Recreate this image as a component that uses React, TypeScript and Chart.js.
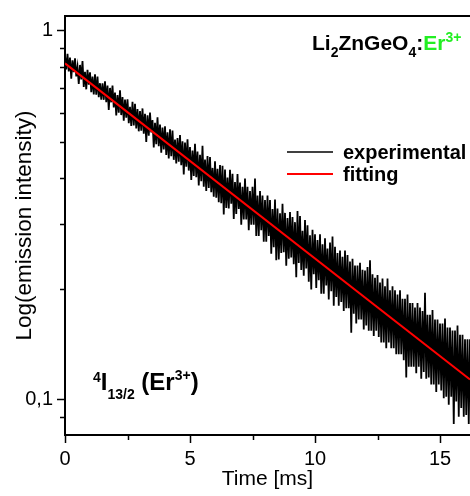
import React, { useEffect, useRef } from 'react';
import { Chart, registerables } from 'chart.js';

Chart.register(...registerables);

// Sampling of the experimental decay trace (ms)
const sampleStartMs = 0;
const sampleStepMs = 0.05;

// Experimental emission intensity (one value per sample, 0 ... 16.2 ms)
const experimentalIntensity = [
  0.856, 0.786, 0.866, 0.776, 0.846, 0.742, 0.832, 0.772, 0.842, 0.752, 0.798, 0.718, 0.808, 0.738, 0.828, 0.704, 0.774, 0.694, 0.784, 0.714,
  0.772, 0.682, 0.752, 0.672, 0.762, 0.671, 0.751, 0.661, 0.721, 0.651, 0.720, 0.650, 0.730, 0.640, 0.710, 0.610, 0.700, 0.640, 0.710, 0.620,
  0.680, 0.590, 0.670, 0.600, 0.690, 0.591, 0.661, 0.571, 0.651, 0.581, 0.652, 0.562, 0.622, 0.552, 0.642, 0.554, 0.634, 0.544, 0.614, 0.534,
  0.606, 0.536, 0.616, 0.526, 0.596, 0.500, 0.590, 0.520, 0.600, 0.530, 0.573, 0.483, 0.563, 0.493, 0.583, 0.487, 0.557, 0.467, 0.547, 0.477,
  0.551, 0.461, 0.531, 0.451, 0.541, 0.457, 0.537, 0.447, 0.507, 0.437, 0.512, 0.442, 0.522, 0.432, 0.502, 0.408, 0.498, 0.428, 0.508, 0.418,
  0.484, 0.394, 0.474, 0.404, 0.494, 0.401, 0.471, 0.381, 0.461, 0.391, 0.488, 0.378, 0.448, 0.368, 0.458, 0.375, 0.455, 0.365, 0.425, 0.355,
  0.443, 0.353, 0.423, 0.343, 0.433, 0.341, 0.431, 0.318, 0.421, 0.331, 0.400, 0.330, 0.420, 0.340, 0.410, 0.309, 0.389, 0.319, 0.409, 0.329,
  0.388, 0.298, 0.378, 0.308, 0.398, 0.308, 0.378, 0.288, 0.368, 0.298, 0.378, 0.298, 0.398, 0.278, 0.358, 0.278, 0.368, 0.288, 0.358, 0.268,
  0.348, 0.268, 0.358, 0.278, 0.348, 0.249, 0.329, 0.259, 0.349, 0.239, 0.330, 0.240, 0.320, 0.250, 0.340, 0.251, 0.321, 0.231, 0.311, 0.241,
  0.323, 0.243, 0.313, 0.233, 0.303, 0.215, 0.325, 0.235, 0.315, 0.225, 0.287, 0.217, 0.307, 0.227, 0.297, 0.209, 0.279, 0.199, 0.289, 0.219,
  0.281, 0.201, 0.271, 0.211, 0.281, 0.194, 0.264, 0.194, 0.274, 0.204, 0.257, 0.187, 0.267, 0.197, 0.277, 0.180, 0.260, 0.190, 0.250, 0.180,
  0.254, 0.184, 0.244, 0.174, 0.254, 0.177, 0.247, 0.177, 0.237, 0.152, 0.241, 0.171, 0.231, 0.161, 0.231, 0.165, 0.235, 0.165, 0.225, 0.155,
  0.224, 0.159, 0.229, 0.154, 0.239, 0.154, 0.219, 0.149, 0.214, 0.154, 0.218, 0.148, 0.208, 0.143, 0.213, 0.143, 0.203, 0.138, 0.213, 0.143,
  0.198, 0.138, 0.203, 0.138, 0.198, 0.133, 0.193, 0.133, 0.198, 0.133, 0.188, 0.128, 0.188, 0.115, 0.193, 0.123, 0.183, 0.123, 0.183, 0.123,
  0.178, 0.118, 0.183, 0.123, 0.178, 0.114, 0.174, 0.119, 0.195, 0.114, 0.170, 0.115, 0.170, 0.110, 0.175, 0.110, 0.165, 0.105, 0.165, 0.110,
  0.161, 0.106, 0.161, 0.101, 0.166, 0.102, 0.157, 0.097, 0.157, 0.102, 0.154, 0.086, 0.154, 0.099, 0.159, 0.090, 0.150, 0.095, 0.150, 0.090,
  0.146, 0.091, 0.146, 0.086, 0.146,
];

// Single-exponential fit (straight line on the log axis)
const fitTimeMs = [0, 16.2];
const fitIntensity = [0.816, 0.1135];

const xRange = [0, 16.2];
const yRange = [0.0803, 1.0965];
const xTickValues = [0, 5, 10, 15];
const xMinorTickValues = [2.5, 7.5, 12.5];
const yTickValues = [0.1, 1];
const yTickLabels = ['0,1', '1'];
const yMinorTickValues = [0.09, 0.2, 0.3, 0.4, 0.5, 0.6, 0.7, 0.8, 0.9];

const seriesLabels = ['experimental', 'fitting'];
const seriesColors = ['#000000', '#ff0000'];
const xTitle = 'Time [ms]';
const yTitle = 'Log(emission intensity)';

const FONT = '"Liberation Sans", Arial, Helvetica, sans-serif';

type Part = { text: string; size: number; dy?: number; color?: string };

function drawRich(ctx: CanvasRenderingContext2D, x: number, baseline: number, parts: Part[]) {
  let cx = x;
  ctx.textBaseline = 'alphabetic';
  ctx.textAlign = 'left';
  for (const p of parts) {
    ctx.font = `bold ${p.size}px ${FONT}`;
    ctx.fillStyle = p.color || '#000';
    ctx.fillText(p.text, cx, baseline + (p.dy || 0));
    cx += ctx.measureText(p.text).width;
  }
}

const decorPlugin = {
  id: 'decor',
  afterDraw(chart: any) {
    const { ctx, chartArea, scales } = chart;
    const xs = scales.x;
    const ys = scales.y;
    ctx.save();
    ctx.strokeStyle = '#000';
    ctx.lineWidth = 1.5;
    ctx.beginPath();
    for (const v of yMinorTickValues) {
      const py = Math.round(ys.getPixelForValue(v)) + 0.5;
      ctx.moveTo(chartArea.left - 5, py);
      ctx.lineTo(chartArea.left, py);
    }
    for (const v of xMinorTickValues) {
      const px = Math.round(xs.getPixelForValue(v)) + 0.5;
      ctx.moveTo(px, chartArea.bottom);
      ctx.lineTo(px, chartArea.bottom + 5);
    }
    ctx.stroke();
    // top frame
    ctx.lineWidth = 2;
    ctx.beginPath();
    ctx.moveTo(chartArea.left - 1, chartArea.top);
    ctx.lineTo(chartArea.right, chartArea.top);
    ctx.stroke();

    // legend
    const legendY = [152, 174];
    for (let i = 0; i < seriesLabels.length; i++) {
      ctx.strokeStyle = seriesColors[i];
      ctx.lineWidth = i === 0 ? 1.5 : 2;
      ctx.beginPath();
      ctx.moveTo(287, legendY[i]);
      ctx.lineTo(333, legendY[i]);
      ctx.stroke();
      ctx.font = `bold 20px ${FONT}`;
      ctx.fillStyle = '#000';
      ctx.textBaseline = 'middle';
      ctx.textAlign = 'left';
      ctx.fillText(seriesLabels[i], 343, legendY[i] + 1);
    }

    // sample name
    drawRich(ctx, 312, 50, [
      { text: 'Li', size: 21 },
      { text: '2', size: 14, dy: 7 },
      { text: 'ZnGeO', size: 21 },
      { text: '4', size: 14, dy: 7 },
      { text: ':', size: 21 },
      { text: 'Er', size: 21, color: '#22ee22' },
      { text: '3+', size: 14, dy: -8, color: '#22ee22' },
    ]);

    // transition label
    drawRich(ctx, 93, 390, [
      { text: '4', size: 14, dy: -8 },
      { text: 'I', size: 24 },
      { text: '13/2', size: 14, dy: 9 },
      { text: ' (Er', size: 24 },
      { text: '3+', size: 14, dy: -10 },
      { text: ')', size: 24 },
    ]);
    ctx.restore();
  },
};

export default function App() {
  const ref = useRef<HTMLCanvasElement | null>(null);
  useEffect(() => {
    if (!ref.current) return;
    const expData = experimentalIntensity.map((v, i) => ({ x: sampleStartMs + i * sampleStepMs, y: v }));
    const fitData = fitTimeMs.map((t, i) => ({ x: t, y: fitIntensity[i] }));
    const chart = new Chart(ref.current, {
      type: 'line',
      data: {
        datasets: [
          {
            label: seriesLabels[0],
            data: expData,
            borderColor: seriesColors[0],
            borderWidth: 1.8,
            pointRadius: 0,
            tension: 0,
            order: 2,
          },
          {
            label: seriesLabels[1],
            data: fitData,
            borderColor: seriesColors[1],
            borderWidth: 2,
            pointRadius: 0,
            tension: 0,
            order: 1,
          },
        ],
      },
      options: {
        responsive: false,
        animation: false,
        events: [],
        layout: { padding: { top: 10, right: 0, left: 0, bottom: 0 } },
        plugins: { legend: { display: false }, tooltip: { enabled: false } },
        scales: {
          x: {
            type: 'linear',
            min: xRange[0],
            max: xRange[1],
            afterBuildTicks: (s: any) => {
              s.ticks = xTickValues.map((v) => ({ value: v }));
            },
            afterFit: (s: any) => {
              s.height = 61;
            },
            grid: { drawOnChartArea: false, drawTicks: true, tickLength: 8, tickColor: '#000', tickWidth: 1.5 },
            border: { display: true, color: '#000', width: 2 },
            ticks: {
              color: '#000',
              font: { size: 20, family: FONT },
              padding: 4,
              maxRotation: 0,
              autoSkip: false,
              callback: (v: any) => String(v),
            },
            title: {
              display: true,
              text: xTitle,
              color: '#000',
              font: { size: 21, family: FONT },
              padding: { top: 0, bottom: 4 },
            },
          },
          y: {
            type: 'logarithmic',
            min: yRange[0],
            max: yRange[1],
            afterBuildTicks: (s: any) => {
              s.ticks = yTickValues.map((v) => ({ value: v }));
            },
            afterFit: (s: any) => {
              s.width = 65;
            },
            grid: { drawOnChartArea: false, drawTicks: true, tickLength: 8, tickColor: '#000', tickWidth: 1.5 },
            border: { display: true, color: '#000', width: 2 },
            ticks: {
              color: '#000',
              font: { size: 20, family: FONT },
              padding: 4,
              autoSkip: false,
              callback: (v: any) => {
                const idx = yTickValues.findIndex((t) => Math.abs(t - Number(v)) < 1e-9);
                return idx >= 0 ? yTickLabels[idx] : '';
              },
            },
            title: {
              display: true,
              text: yTitle,
              color: '#000',
              font: { size: 22.5, family: FONT },
              padding: { top: 11, bottom: 0 },
            },
          },
        },
      },
      plugins: [decorPlugin],
    } as any);
    return () => chart.destroy();
  }, []);

  return (
    <div style={{ position: 'fixed', left: 0, top: 0, width: 470, height: 496, overflow: 'hidden', background: '#fff' }}>
      <canvas ref={ref} width={470} height={496} style={{ display: 'block' }} />
    </div>
  );
}
